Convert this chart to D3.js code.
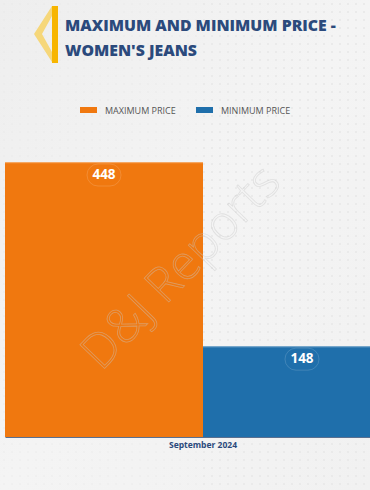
<!DOCTYPE html>
<html><head><meta charset="utf-8">
<script src="https://cdn.jsdelivr.net/npm/d3@7"></script>
<style>html,body{margin:0;padding:0;background:#f2f2f2;overflow:hidden}</style>
</head><body>
<script>
const categories = ["September 2024"];
const seriesNames = ["MAXIMUM PRICE", "MINIMUM PRICE"];
const maxPrice = [448];
const minPrice = [148];
const colors = ["#f0780f", "#1f6fab"];

const W = 370, H = 490;
const svg = d3.select("body").append("svg").attr("width", W).attr("height", H);
const defs = svg.append("defs");
const pat = defs.append("pattern").attr("id","dots").attr("width",8).attr("height",8).attr("patternUnits","userSpaceOnUse");
pat.append("circle").attr("cx",4).attr("cy",4).attr("r",0.7).attr("fill","#e0e0e0");
const grad = defs.append("linearGradient").attr("id","bg").attr("x1","0").attr("y1","0").attr("x2","1").attr("y2","1");
grad.append("stop").attr("offset","0").attr("stop-color","#eeeeee");
grad.append("stop").attr("offset","0.5").attr("stop-color","#f4f4f4");
grad.append("stop").attr("offset","1").attr("stop-color","#f1f1f1");
svg.append("rect").attr("width",W).attr("height",H).attr("fill","url(#bg)");
svg.append("rect").attr("x",200).attr("width",W-200).attr("height",H).attr("fill","url(#dots)");
svg.append("rect").attr("y",0).attr("width",W).attr("height",H).attr("fill","url(#dots)").attr("opacity",0.6);

// title decoration
svg.append("path").attr("d","M52,6 L34,34 L52,62 L52,52 L42,34 L52,16 Z").attr("fill","#f6d77a");
svg.append("rect").attr("x",52).attr("y",6).attr("width",6).attr("height",57).attr("fill","#f7b500");
const title = svg.append("text").attr("x",65).attr("fill","#2b4a7c")
  .style("font-family","'Open Sans', sans-serif").style("font-weight","800").style("font-size","15.8px");
title.append("tspan").attr("x",65).attr("y",31).text("MAXIMUM AND MINIMUM PRICE -");
title.append("tspan").attr("x",65).attr("y",56).text("WOMEN'S JEANS");

// legend
const legendX = [80, 196];
seriesNames.forEach((n,i)=>{
  svg.append("rect").attr("x",legendX[i]).attr("y",107).attr("width",17).attr("height",6).attr("fill",colors[i]);
  svg.append("text").attr("x",legendX[i]+25).attr("y",113.5).attr("fill","#555")
    .style("font-family","'Open Sans', sans-serif").style("font-size","9px").text(n);
});

// chart
const x0 = d3.scaleBand().domain(categories).range([5, 401]).padding(0);
const x1 = d3.scaleBand().domain(seriesNames).range([0, x0.bandwidth()]).padding(0);
const y = d3.scaleLinear().domain([0, 448]).range([437, 162]);
const data = categories.map((c,i)=>({cat:c, vals:[maxPrice[i], minPrice[i]]}));

const g = svg.append("g");
data.forEach(d=>{
  d.vals.forEach((v,j)=>{
    const xx = x0(d.cat) + x1(seriesNames[j]);
    g.append("rect").attr("x",xx).attr("y",y(v)).attr("width",x1.bandwidth()).attr("height",y(0)-y(v)).attr("fill",colors[j]);
    g.append("rect").attr("x",xx).attr("y",y(v)).attr("width",x1.bandwidth()).attr("height",1.2).attr("fill","#fff").attr("opacity",0.35);
    const cx = xx + x1.bandwidth()/2;
    g.append("rect").attr("x",cx-17).attr("y",y(v)+2).attr("width",34).attr("height",22).attr("rx",11)
      .attr("fill","none").attr("stroke","#fff").attr("stroke-opacity",0.15);
    g.append("text").attr("x",cx).attr("y",y(v)+17).attr("text-anchor","middle").attr("fill","#fff")
      .style("font-family","'Open Sans', sans-serif").style("font-weight","700").style("font-size","13.5px").text(v);
  });
});

// watermark
svg.append("text").attr("transform","translate(192,278) rotate(-46)").attr("text-anchor","middle")
  .attr("fill","none").attr("stroke","#c8c8c8").attr("stroke-opacity",0.45).attr("stroke-width",0.8)
  .style("font-family","'Open Sans', sans-serif").style("font-weight","300").style("font-size","48px").text("D&J Reports");

// axis
const axis = svg.append("g").attr("transform","translate(0,437)").call(d3.axisBottom(x0).tickSize(0).tickPadding(5));
axis.select(".domain").attr("stroke","#5a7090").attr("stroke-width",1);
axis.selectAll("text").attr("fill","#2b4a7c").style("font-family","'Open Sans', sans-serif").style("font-weight","700").style("font-size","8.5px")
  .attr("x", 203 - x0.bandwidth()/2 - 5);
</script>
</body></html>
